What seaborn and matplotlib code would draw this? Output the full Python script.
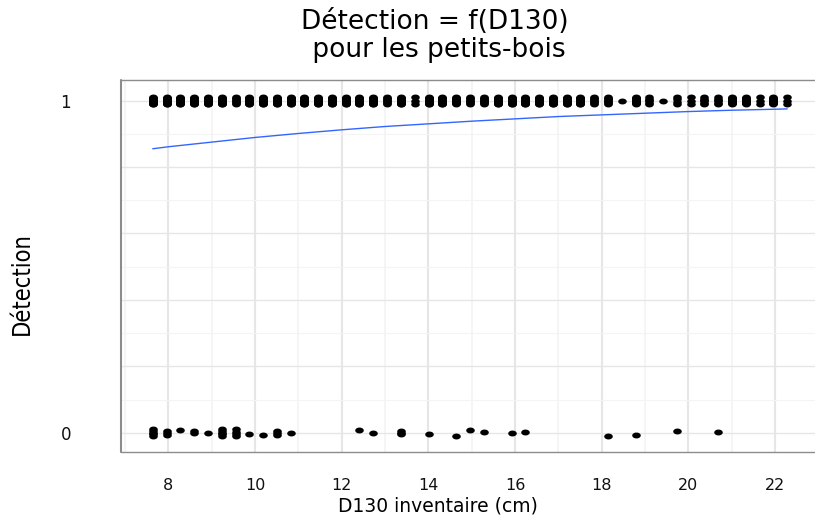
import numpy as np
import pandas as pd
import seaborn as sns
import matplotlib.pyplot as plt
from matplotlib.path import Path

# D130 values (cm) present in the inventory and number of detected trees at each
d130_detected = [7.64, 7.96, 8.28, 8.59, 8.91, 9.23, 9.55, 9.87, 10.19, 10.50,
                 10.82, 11.14, 11.46, 11.78, 12.10, 12.41, 12.73, 13.05, 13.37, 13.69,
                 14.01, 14.32, 14.64, 14.96, 15.28, 15.60, 15.92, 16.23, 16.55, 16.87,
                 17.19, 17.51, 17.83, 18.14, 18.46, 18.78, 19.10, 19.42, 19.74, 20.05,
                 20.37, 20.69, 21.01, 21.33, 21.65, 21.96, 22.28]
n_detected = [20, 20, 20, 20, 20, 20, 8, 20, 20, 20,
              20, 20, 20, 20, 20, 20, 20, 8, 20, 3,
              20, 20, 12, 8, 10, 20, 20, 20, 20, 20,
              20, 20, 8, 8, 1, 12, 6, 1, 4, 3,
              6, 6, 15, 15, 3, 15, 3]

# missed trees (Détection = 0), one entry per point as plotted (jittered value)
d130_missed = [7.64, 7.64, 7.64, 7.64, 7.64, 7.96, 7.96, 7.96, 8.28, 8.59, 8.59,
               8.91, 9.23, 9.23, 9.23, 9.23, 9.23, 9.55, 9.55, 9.55, 9.55,
               9.87, 10.19, 10.50, 10.50, 10.50, 10.82, 12.41, 12.73,
               13.37, 13.37, 13.37, 14.01, 14.64, 14.96, 15.28, 15.92, 16.23,
               18.14, 18.78, 19.74, 20.69]
det_missed = [-0.011, -0.005, 0.0, 0.005, 0.011, -0.006, 0.0, 0.006, 0.007, 0.004, 0.0,
              -0.001, -0.011, -0.005, 0.0, 0.005, 0.011, -0.010, -0.003, 0.003, 0.010,
              -0.004, -0.007, -0.006, 0.0, 0.006, -0.002, 0.007, -0.002,
              -0.004, 0.0, 0.004, -0.004, -0.009, 0.009, 0.003, -0.001, 0.003,
              -0.009, -0.006, 0.006, 0.002]

# logistic fit
fit_d130 = [7.64, 8, 9, 10, 11, 12, 13, 14, 15, 16, 17, 18, 19, 20, 21, 22, 22.28]
fit_prob = [0.855, 0.861, 0.875, 0.889, 0.901, 0.912, 0.922, 0.930, 0.938,
            0.945, 0.952, 0.957, 0.962, 0.967, 0.971, 0.974, 0.975]

x_ticks = [8, 10, 12, 14, 16, 18, 20, 22]
y_ticks = [0, 1]

# build point table (detected clusters spread like geom_jitter)
xs, ys = [], []
for d, n in zip(d130_detected, n_detected):
    offs = np.linspace(-0.01, 0.01, n) if n > 1 else [0.0]
    for o in offs:
        xs.append(d)
        ys.append(1 + o)
xs += d130_missed
ys += [0 + v for v in det_missed]
points = pd.DataFrame({'D130': xs, 'Detection': ys})
fit = pd.DataFrame({'D130': fit_d130, 'p': fit_prob})

sns.set_style('white')

fig = plt.figure(figsize=(8.15, 5.16), dpi=100)
ax = fig.add_axes([121 / 815, 64 / 516, (819 - 121) / 815, 372 / 516])

# grid lines
for v in np.arange(7, 24, 2):
    ax.axvline(v, color='#f4f4f4', lw=1.2, zorder=0)
for v in x_ticks:
    ax.axvline(v, color='#e6e6e6', lw=1.5, zorder=0)
for v in [0.1, 0.3, 0.5, 0.7, 0.9]:
    ax.axhline(v, color='#f4f4f4', lw=0.8, zorder=0)
for v in [0, 0.2, 0.4, 0.6, 0.8, 1.0]:
    ax.axhline(v, color='#e6e6e6', lw=1.0, zorder=0)

# elliptic marker (stretched circle)
t = np.linspace(0, 2 * np.pi, 40)
ell = Path(np.column_stack([1.45 * np.cos(t), np.sin(t)]), closed=True)

sns.scatterplot(data=points, x='D130', y='Detection', ax=ax, color='black',
                marker=ell, s=38, linewidth=0, zorder=3)
sns.lineplot(data=fit, x='D130', y='p', ax=ax, color='#3366FF', lw=1.0, zorder=2)

ax.set_xlim(6.907, 23.014)
ax.set_ylim(-0.058, 1.062)
ax.set_xticks(x_ticks)
ax.set_yticks(y_ticks)
ax.set_xlabel('')
ax.set_ylabel('')

for s in ax.spines.values():
    s.set_visible(False)
ax.spines['bottom'].set_position(('outward', 3))
ax.spines['left'].set_position(('outward', 4))
ax.tick_params(axis='x', length=5, width=1, color='#666666', pad=11,
               labelsize=11.5, labelcolor='#111111')
ax.tick_params(axis='y', length=6, width=1.4, color='#7f7f7f', pad=26,
               labelsize=12, labelcolor='#111111')

# panel border (left, top, bottom)
ax.plot([0, 0], [0, 1], transform=ax.transAxes, color='#8c8c8c', lw=1.5, clip_on=False)
ax.plot([0, 1], [1, 1], transform=ax.transAxes, color='#8c8c8c', lw=1.0, clip_on=False)
ax.plot([0, 1], [0, 0], transform=ax.transAxes, color='#8c8c8c', lw=1.0, clip_on=False)

fig.text(435 / 815, 1 - 9 / 516, 'Détection = f(D130)\n pour les petits-bois',
         ha='center', va='top', fontsize=19, color='black', linespacing=1.1)
fig.text(438 / 815, 1 / 516, 'D130 inventaire (cm)', ha='center', va='bottom',
         fontsize=13.5, color='black')
fig.text(22 / 815, 1 - 284 / 516, 'Détection', rotation=90, ha='center', va='center',
         fontsize=17, family=['Liberation Sans Narrow', 'DejaVu Sans'],
         fontstretch='condensed', color='black')

fig.savefig('out.png', dpi=100)
